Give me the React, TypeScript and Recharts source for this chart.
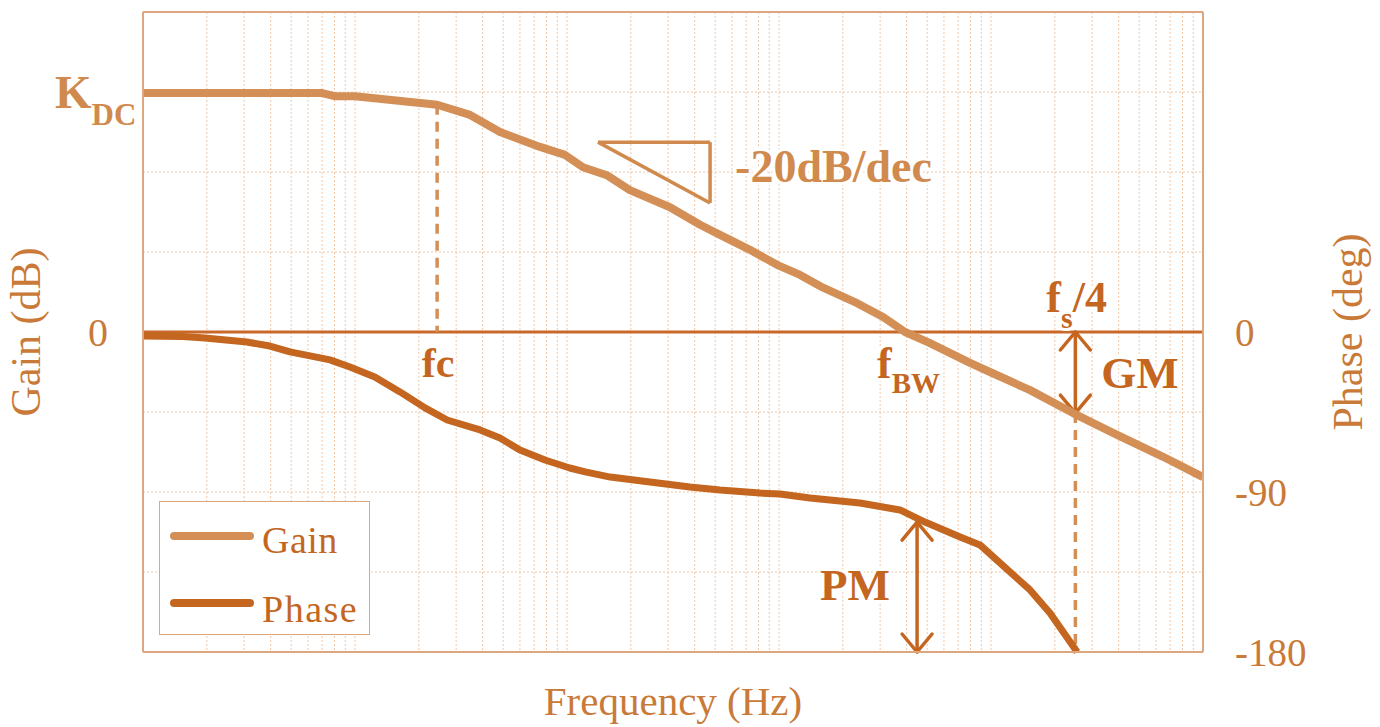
import React from "react";
import {
  CartesianGrid,
  Legend,
  Line,
  LineChart,
  ReferenceDot,
  ReferenceLine,
  XAxis,
  YAxis,
} from "recharts";

// Bode plot of the loop: gain (dB, left axis) and phase (deg, right axis)
const GAIN_FREQ = [
  1, 7, 8.1, 10, 24.4, 34.9, 48.3, 74.6, 97.9, 119, 154, 198, 306, 424, 527,
  730, 979, 1257, 1614, 2336, 3097, 3930, 5155, 7960, 9890, 15280, 24370, 37600,
  64800, 100000,
];
const GAIN_DB = [
  44.8, 44.8, 44.2, 44.2, 42.6, 40.7, 37.5, 34.7, 33.2, 30.9, 29.4, 26.6, 23.4,
  20.1, 18.2, 15.4, 12.6, 10.7, 8.3, 5.4, 2.8, 0, -2.1, -5.8, -7.5, -10.9,
  -15.2, -18.9, -23.4, -27.2,
];
const PHASE_FREQ = [
  1, 1.54, 1.96, 3.09, 3.97, 4.94, 7.62, 9.47, 12.4, 16.3, 21.4, 27.2, 38.9,
  48.3, 60, 78.7, 103, 122, 160, 246, 380, 527, 813, 1011, 1400, 2410, 3720,
  4880, 7150, 8870, 11020, 15280, 18970, 25500,
];
const PHASE_DEG = [
  -2.2, -2.5, -3.4, -5.6, -7.9, -11.2, -15.7, -19.7, -25.3, -33.7, -42.7, -49.5,
  -55.1, -59.6, -66.4, -72, -76.5, -78.7, -81.6, -84.4, -87.2, -88.9, -90.6,
  -91.1, -93.4, -96.2, -100.1, -106.9, -115.3, -119.8, -129.9, -145.1, -158.1,
  -180,
];

// log grid: 1..9 in every decade
const FREQ_TICKS: number[] = [];
for (let d = 1; d < 100000; d *= 10) for (let m = 1; m < 10; m++) FREQ_TICKS.push(m * d);
FREQ_TICKS.push(100000);
const GAIN_TICKS = [-60, -45, -30, -15, 0, 15, 30, 45, 60];
const PHASE_TICKS = [-180, -135, -90, -45, 0, 45, 90, 135, 180];
const PHASE_LABELS = [0, -90, -180];

// marked points
const K_DC = 45;
const F_C = 24.4;
const F_C_DB = 42.6;
const F_BW = 3930;
const F_S4 = 25000;
const GM_DB = -15.2;
const F_PM = 4480;
const PM_DEG = -106.9;
const SLOPE_F = [140, 473];
const SLOPE_DB = [35.6, 24.2];

const GAIN_COLOR = "#d48f56";
const PHASE_COLOR = "#c4661f";
const DARK_TEXT = "#c4661f";
const LIGHT_TEXT = "#d08a4e";
const AXIS_TEXT = "#c97a38";
const FRAME = "#dca77e";
const GRID = "#f0c8a8";
const ZERO = "#c8692a";
const FONT = "'Liberation Serif', 'Times New Roman', serif";

const gainData = GAIN_FREQ.map((f, i) => ({ f, v: GAIN_DB[i] }));
const phaseData = PHASE_FREQ.map((f, i) => ({ f, v: PHASE_DEG[i] }));

const halo = {
  paintOrder: "stroke" as const,
  stroke: "#ffffff",
  strokeWidth: 6,
  strokeLinejoin: "round" as const,
};

/* eslint-disable @typescript-eslint/no-explicit-any */
function GainTick(props: any) {
  const { x, y, payload } = props;
  if (payload.value === 0) {
    return (
      <text x={x - 35} y={y + 14} textAnchor="end" fontSize={40} fill={AXIS_TEXT} fontFamily={FONT}>
        0
      </text>
    );
  }
  if (payload.value === K_DC) {
    return (
      <text x={x - 88} y={y + 16} fontSize={47} fontWeight="bold" fill={LIGHT_TEXT} fontFamily={FONT}>
        K
        <tspan fontSize={31} dy={17}>
          DC
        </tspan>
      </text>
    );
  }
  return <g />;
}

function PhaseTick(props: any) {
  const { x, y, payload } = props;
  if (!PHASE_LABELS.includes(payload.value)) return <g />;
  return (
    <text x={x + 32} y={y + 14} fontSize={39} fill={AXIS_TEXT} fontFamily={FONT}>
      {payload.value}
    </text>
  );
}

function DoubleArrow(props: any) {
  const { x1, y1, x2, y2 } = props;
  const top = Math.min(y1, y2);
  const bot = Math.max(y1, y2);
  const w = 15;
  const h = 18;
  return (
    <g stroke={PHASE_COLOR} strokeWidth={3.5} fill="none" strokeLinecap="round" strokeLinejoin="round">
      <line x1={x1} y1={top} x2={x2} y2={bot} />
      <polyline points={`${x1 - w},${top + h} ${x1},${top} ${x1 + w},${top + h}`} />
      <polyline points={`${x2 - w},${bot - h} ${x2},${bot} ${x2 + w},${bot - h}`} />
    </g>
  );
}

function LegendBox({ payload }: { payload?: ReadonlyArray<any> }) {
  const items = payload ?? [];
  return (
    <div
      style={{
        position: "relative",
        width: 211,
        height: 134,
        boxSizing: "border-box",
        border: `1.5px solid ${FRAME}`,
        background: "#ffffff",
        fontFamily: FONT,
      }}
    >
      {items.map((it, i) => (
        <React.Fragment key={String(it.value)}>
          <div
            style={{
              position: "absolute",
              left: 10,
              top: 30 + i * 67,
              width: 84,
              height: 8,
              borderRadius: 4,
              background: it.color,
            }}
          />
          <span
            style={{
              position: "absolute",
              left: 102,
              top: 19 + i * 69,
              fontSize: 38,
              lineHeight: "38px",
              letterSpacing: i === 1 ? 1.5 : 0.5,
              color: DARK_TEXT,
              whiteSpace: "nowrap",
            }}
          >
            {it.value}
          </span>
        </React.Fragment>
      ))}
    </div>
  );
}

export default function App() {
  return (
    <div style={{ position: "absolute", left: 0, top: 0, background: "#ffffff" }}>
      <LineChart width={1380} height={727} margin={{ top: 12, right: 0, bottom: 0, left: 0 }}>
        <CartesianGrid yAxisId="gain" stroke={GRID} strokeDasharray="2 2" strokeWidth={1} />
        <XAxis
          type="number"
          dataKey="f"
          scale="log"
          domain={[1, 100000]}
          allowDataOverflow
          ticks={FREQ_TICKS}
          interval={0}
          tick={() => <g />}
          tickLine={false}
          axisLine={{ stroke: FRAME, strokeWidth: 2 }}
          height={75}
          label={{
            content: (p: any) => {
              const vb = p.viewBox ?? { x: 143, y: 652, width: 1060 };
              return (
                <text
                  x={vb.x + vb.width / 2}
                  y={vb.y + 63}
                  textAnchor="middle"
                  fontSize={41}
                  fill={AXIS_TEXT}
                  fontFamily={FONT}
                >
                  Frequency (Hz)
                </text>
              );
            },
          }}
        />
        <YAxis
          yAxisId="gain"
          type="number"
          domain={[-60, 60]}
          ticks={GAIN_TICKS}
          interval={0}
          width={143}
          tickSize={0}
          tickMargin={0}
          tickLine={false}
          tick={(p: any) => <GainTick {...p} />}
          axisLine={{ stroke: FRAME, strokeWidth: 2 }}
          label={{
            content: (p: any) => {
              const vb = p.viewBox ?? { x: 0, y: 12, height: 640 };
              const cy = vb.y + vb.height / 2;
              return (
                <text
                  x={40}
                  y={cy}
                  transform={`rotate(-90, 40, ${cy})`}
                  textAnchor="middle"
                  fontSize={42}
                  fill={AXIS_TEXT}
                  fontFamily={FONT}
                >
                  Gain (dB)
                </text>
              );
            },
          }}
        />
        <YAxis
          yAxisId="phase"
          orientation="right"
          type="number"
          domain={[-180, 180]}
          ticks={PHASE_TICKS}
          interval={0}
          width={177}
          tickSize={0}
          tickMargin={0}
          tickLine={false}
          tick={(p: any) => <PhaseTick {...p} />}
          axisLine={{ stroke: FRAME, strokeWidth: 2 }}
          label={{
            content: (p: any) => {
              const vb = p.viewBox ?? { x: 1203, y: 12, height: 640 };
              const cy = vb.y + vb.height / 2;
              return (
                <text
                  x={1362}
                  y={cy}
                  transform={`rotate(-90, 1362, ${cy})`}
                  textAnchor="middle"
                  fontSize={42}
                  fill={AXIS_TEXT}
                  fontFamily={FONT}
                >
                  Phase (deg)
                </text>
              );
            },
          }}
        />

        {/* top of frame and the 0 dB / 0 deg line */}
        <ReferenceLine yAxisId="gain" y={60} stroke={FRAME} strokeWidth={2} ifOverflow="visible" />
        <ReferenceLine yAxisId="gain" y={0} stroke={ZERO} strokeWidth={3} ifOverflow="visible" />

        {/* dashed markers at fc and fs/4 */}
        <ReferenceLine
          yAxisId="gain"
          segment={[{ x: F_C, y: F_C_DB }, { x: F_C, y: 0 }]}
          stroke={GAIN_COLOR}
          strokeWidth={3.5}
          strokeDasharray="10 7"
        />
        <ReferenceLine
          yAxisId="gain"
          segment={[{ x: F_S4, y: GM_DB }, { x: F_S4, y: -60 }]}
          stroke={GAIN_COLOR}
          strokeWidth={3.5}
          strokeDasharray="10 7"
        />

        {/* -20dB/dec slope triangle */}
        <ReferenceLine
          yAxisId="gain"
          segment={[{ x: SLOPE_F[0], y: SLOPE_DB[0] }, { x: SLOPE_F[1], y: SLOPE_DB[0] }]}
          stroke={LIGHT_TEXT}
          strokeWidth={3.5}
        />
        <ReferenceLine
          yAxisId="gain"
          segment={[{ x: SLOPE_F[1], y: SLOPE_DB[0] }, { x: SLOPE_F[1], y: SLOPE_DB[1] }]}
          stroke={LIGHT_TEXT}
          strokeWidth={3.5}
        />
        <ReferenceLine
          yAxisId="gain"
          segment={[{ x: SLOPE_F[0], y: SLOPE_DB[0] }, { x: SLOPE_F[1], y: SLOPE_DB[1] }]}
          stroke={LIGHT_TEXT}
          strokeWidth={3.5}
        />

        {/* gain margin and phase margin arrows */}
        <ReferenceLine
          yAxisId="gain"
          segment={[{ x: F_S4, y: 0 }, { x: F_S4, y: GM_DB }]}
          shape={(p: any) => <DoubleArrow {...p} />}
        />
        <ReferenceLine
          yAxisId="phase"
          segment={[{ x: F_PM, y: PM_DEG }, { x: F_PM, y: -180 }]}
          shape={(p: any) => <DoubleArrow {...p} />}
        />

        <Line
          data={phaseData}
          dataKey="v"
          name="Phase"
          yAxisId="phase"
          type="linear"
          stroke={PHASE_COLOR}
          strokeWidth={7}
          strokeLinejoin="round"
          dot={false}
          activeDot={false}
          isAnimationActive={false}
        />
        <Line
          data={gainData}
          dataKey="v"
          name="Gain"
          yAxisId="gain"
          type="linear"
          stroke={GAIN_COLOR}
          strokeWidth={8}
          strokeLinejoin="round"
          dot={false}
          activeDot={false}
          isAnimationActive={false}
        />

        {/* annotations */}
        <ReferenceDot
          yAxisId="gain"
          x={F_C}
          y={0}
          shape={(p: any) => (
            <text x={p.cx + 1} y={p.cy + 45} textAnchor="middle" fontSize={42} fontWeight="bold" fill={DARK_TEXT} fontFamily={FONT} {...halo}>
              fc
            </text>
          )}
        />
        <ReferenceDot
          yAxisId="gain"
          x={F_BW}
          y={0}
          shape={(p: any) => (
            <text x={p.cx - 28} y={p.cy + 46} fontSize={44} fontWeight="bold" fill={DARK_TEXT} fontFamily={FONT} {...halo}>
              f
              <tspan fontSize={29} dy={15}>
                BW
              </tspan>
            </text>
          )}
        />
        <ReferenceDot
          yAxisId="gain"
          x={F_S4}
          y={0}
          shape={(p: any) => (
            <text x={p.cx - 29} y={p.cy - 20} fontSize={44} fontWeight="bold" fill={DARK_TEXT} fontFamily={FONT} {...halo}>
              f
              <tspan fontSize={30} dy={16}>
                s
              </tspan>
              <tspan dy={-16}>/4</tspan>
            </text>
          )}
        />
        <ReferenceDot
          yAxisId="gain"
          x={F_S4}
          y={0}
          shape={(p: any) => (
            <text x={p.cx + 26} y={p.cy + 56} fontSize={45} fontWeight="bold" fill={DARK_TEXT} fontFamily={FONT} {...halo}>
              GM
            </text>
          )}
        />
        <ReferenceDot
          yAxisId="phase"
          x={F_PM}
          y={-180}
          shape={(p: any) => (
            <text x={p.cx - 97} y={p.cy - 52} fontSize={45} fontWeight="bold" fill={DARK_TEXT} fontFamily={FONT} {...halo}>
              PM
            </text>
          )}
        />
        <ReferenceDot
          yAxisId="gain"
          x={SLOPE_F[1]}
          y={SLOPE_DB[0]}
          shape={(p: any) => (
            <text x={p.cx + 25} y={p.cy + 40} fontSize={46} fontWeight="bold" fill={LIGHT_TEXT} fontFamily={FONT} {...halo}>
              -20dB/dec
            </text>
          )}
        />

        <Legend
          layout="horizontal"
          verticalAlign="middle"
          align="center"
          wrapperStyle={{ left: 159, top: 501, width: 211, height: 134 }}
          content={(p: any) => <LegendBox payload={p.payload} />}
        />
      </LineChart>
    </div>
  );
}
